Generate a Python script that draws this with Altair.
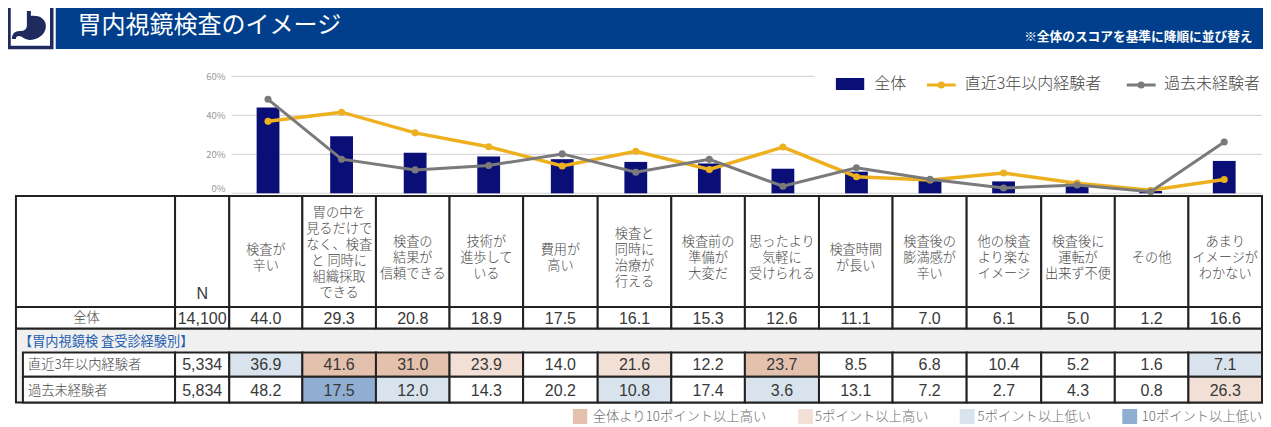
import altair as alt
import pandas as pd

FONT = "Noto Sans CJK JP"
LATIN = "Liberation Sans"
W, H = 1255, 419
KX = 1254 / 1261  # the page only has 1255px of width for 1263px of reference

# ---- data ----
categories = ["検査が辛い", "胃の中を見るだけでなく、検査と同時に組織採取できる", "検査の結果が信頼できる",
              "技術が進歩している", "費用が高い", "検査と同時に治療が行える", "検査前の準備が大変だ",
              "思ったより気軽に受けられる", "検査時間が長い", "検査後の膨満感が辛い", "他の検査より楽なイメージ",
              "検査後に運転が出来ず不便", "その他", "あまりイメージがわかない"]
header_labels = ["検査が\n辛い", "胃の中を\n見るだけで\nなく、検査\nと 同時に\n組織採取\nできる", "検査の\n結果が\n信頼できる",
                 "技術が\n進歩して\nいる", "費用が\n高い", "検査と\n同時に\n治療が\n行える", "検査前の\n準備が\n大変だ",
                 "思ったより\n気軽に\n受けられる", "検査時間\nが長い", "検査後の\n膨満感が\n辛い", "他の検査\nより楽な\nイメージ",
                 "検査後に\n運転が\n出来ず不便", "その他", "あまり\nイメージが\nわかない"]
overall = [44.0, 29.3, 20.8, 18.9, 17.5, 16.1, 15.3, 12.6, 11.1, 7.0, 6.1, 5.0, 1.2, 16.6]
recent = [36.9, 41.6, 31.0, 23.9, 14.0, 21.6, 12.2, 23.7, 8.5, 6.8, 10.4, 5.2, 1.6, 7.1]
never = [48.2, 17.5, 12.0, 14.3, 20.2, 10.8, 17.4, 3.6, 13.1, 7.2, 2.7, 4.3, 0.8, 26.3]
y_ticks = [0, 20, 40, 60]
n_labels = ["14,100", "5,334", "5,834"]
row_labels = ["全体", "直近3年以内経験者", "過去未経験者"]
series_names = ["全体", "直近3年以内経験者", "過去未経験者"]
key_labels = ["全体より10ポイント以上高い", "5ポイント以上高い", "5ポイント以上低い", "10ポイント以上低い"]

# ---- layout (reference-image pixels) ----
COL = [16, 176, 230.5, 304, 378, 452, 526, 601, 675, 749, 823.5, 897.5, 972, 1047, 1121, 1195, 1269]
ROW = [196, 307, 328.5, 352.5, 376.7, 402.5]
NAVY, YEL, GRY = "#0A0F78", "#EDB120", "#7A7A7A"
EDGE = "#222222"
C_H10, C_H5, C_L5, C_L10 = "#E3C1AC", "#F2E0D6", "#D9E3EE", "#90AED2"
TXT = "#474747"

SX = alt.Scale(domain=[8, 1269], range=[0, 1254])
SY = alt.Scale(domain=[8, 8 + H], range=[0, H])


def rects(rows):
    df = pd.DataFrame(rows, columns=["x", "x2", "y", "y2", "fill", "stroke", "sw"])
    return alt.Chart(df).mark_rect().encode(
        x=alt.X("x:Q", scale=SX, axis=None), x2="x2:Q",
        y=alt.Y("y:Q", scale=SY, axis=None), y2="y2:Q",
        fill=alt.Fill("fill:N", scale=None), stroke=alt.Stroke("stroke:N", scale=None),
        strokeWidth=alt.StrokeWidth("sw:Q", scale=None))


def texts(rows, size, color, align="center", weight=400, lh=16, font=FONT):
    df = pd.DataFrame(rows, columns=["x", "y", "t"])
    return alt.Chart(df).mark_text(align=align, baseline="middle", font=font, fontSize=size, color=color,
                                   fontWeight=weight, lineBreak="\n", lineHeight=lh).encode(
        x=alt.X("x:Q", scale=SX, axis=None), y=alt.Y("y:Q", scale=SY, axis=None), text="t:N")


def shade(v, base):
    d = round(v - base, 1)
    if d >= 10:
        return C_H10
    if d >= 5:
        return C_H5
    if d <= -10:
        return C_L10
    if d <= -5:
        return C_L5
    return "#FFFFFF"


layers = []

# ---- header band ----
layers.append(rects([[56, 1275, 3, 49, "#013F8C", "#013F8C", 0],
                     [9, 52, 4.5, 47.5, "#FFFFFF", "#1F2A5F", 3.5]]))
layers.append(texts([[78, 25.5, "胃内視鏡検査のイメージ"]], 24, "#FFFFFF", align="left"))
layers.append(texts([[1259.5, 37, "※全体のスコアを基準に降順に並び替え"]], 12.7, "#FFFFFF", align="right", weight=700))


def u(px, py):
    return f"{(px - 29) / 17:.3f} {(py - 25) / 17:.3f}"


stomach = (f"M{u(27, 11)} L{u(31, 11)} L{u(31, 16)} C{u(38, 15)} {u(46, 18)} {u(46, 26)} "
           f"C{u(46, 35)} {u(37, 40)} {u(30, 40)} C{u(25, 40)} {u(22, 36)} {u(19, 36)} "
           f"C{u(17, 36)} {u(16, 37)} {u(16, 39)} L{u(12, 39)} C{u(12, 34)} {u(15, 31)} {u(20, 31)} "
           f"C{u(24, 31)} {u(27, 30)} {u(27, 25)} Z")
layers.append(alt.Chart(pd.DataFrame({"x": [29], "y": [25]})).mark_point(
    shape=stomach, size=1156, filled=True, color="#1F2A5F", opacity=1).encode(
    x=alt.X("x:Q", scale=SX, axis=None), y=alt.Y("y:Q", scale=SY, axis=None)))

# ---- table ----
cells = [[COL[0], COL[-1], ROW[2], ROW[5], "#F0F0F0", EDGE, 2]]
cells.append([COL[0], COL[1], ROW[0], ROW[1], "#FFFFFF", EDGE, 2])
cells.append([COL[1], COL[2], ROW[0], ROW[1], "#FFFFFF", EDGE, 2])
cells.append([COL[0], COL[1], ROW[1], ROW[2], "#FFFFFF", EDGE, 2])
cells.append([COL[1], COL[2], ROW[1], ROW[2], "#FFFFFF", EDGE, 2])
for r in (3, 4):
    cells.append([23, COL[1], ROW[r], ROW[r + 1], "#FFFFFF", EDGE, 2])
    cells.append([COL[1], COL[2], ROW[r], ROW[r + 1], "#FFFFFF", EDGE, 2])
for i in range(14):
    a, b = COL[i + 2], COL[i + 3]
    cells.append([a, b, ROW[0], ROW[1], "#FFFFFF", EDGE, 2])
    cells.append([a, b, ROW[1], ROW[2], "#FFFFFF", EDGE, 2])
    cells.append([a, b, ROW[3], ROW[4], shade(recent[i], overall[i]), EDGE, 2])
    cells.append([a, b, ROW[4], ROW[5], shade(never[i], overall[i]), EDGE, 2])
layers.append(rects(cells))

head, vals = [], []
for i in range(14):
    cx = (COL[i + 2] + COL[i + 3]) / 2
    lines = header_labels[i].count("\n")
    head.append([cx, (253 if i == 1 else 257.5) - lines * 8, header_labels[i]])
    vals.append([cx, 319, f"{overall[i]:.1f}"])
    vals.append([cx, 365, f"{recent[i]:.1f}"])
    vals.append([cx, 391, f"{never[i]:.1f}"])
layers.append(texts(head, 13.2, TXT, weight=300))
nx = (COL[1] + COL[2]) / 2
vals += [[nx, 319, n_labels[0]], [nx, 365, n_labels[1]], [nx, 391, n_labels[2]], [nx, 294, "N"]]
layers.append(texts(vals, 16, "#383838", font=LATIN))
layers.append(texts([[87, 318, row_labels[0]]], 13.3, TXT, weight=300))
layers.append(texts([[28, 365, row_labels[1]], [28, 390.5, row_labels[2]]], 13.3, TXT, align="left", weight=300))
layers.append(texts([[19, 341.5, "【胃内視鏡検 査受診経験別】"]], 13.2, "#1F5FAF", align="left"))

# ---- chart ----
XB = alt.X("cat:N", sort=None, axis=None,
           scale=alt.Scale(domain=categories, range=[224.5 * KX, 1260 * KX], paddingInner=0.69, paddingOuter=0.345))
YS = alt.Scale(domain=[0, 60], range=[185.3, 68.3])
tick_df = pd.DataFrame({"v": y_ticks})
layers.append(alt.Chart(tick_df).mark_rule(color="#D9D9D9", strokeWidth=1.2).encode(
    y=alt.Y("v:Q", scale=YS, axis=alt.Axis(values=y_ticks, offset=-218, labelPadding=1, ticks=False, domain=False,
                                            grid=False, title=None, labelExpr="datum.value + '%'", labelFont=FONT,
                                            labelFontSize=9.5, labelColor="#999999", zindex=1,
                                            labelOffset={"condition": {"test": "datum.value === 0", "value": -4.5},
                                                         "value": 0})),
    x=alt.value(225 * KX), x2=alt.value(1261 * KX)))
# white backing of the legend
layers.append(rects([[819, 1275, 70, 98, "#FFFFFF", "#FFFFFF", 0]]))

df = pd.DataFrame({"cat": categories, "all": overall, "recent": recent, "never": never})
layers.append(alt.Chart(df).mark_bar(color=NAVY).encode(
    x=XB, y=alt.Y("all:Q", scale=YS, axis=None)))
for col, c, sw, sz in (("recent", YEL, 3.5, 50), ("never", GRY, 3, 50)):
    layers.append(alt.Chart(df).mark_line(color=c, strokeWidth=sw,
                                          point=alt.OverlayMarkDef(color=c, size=sz, filled=True, opacity=1)).encode(
        x=XB, y=alt.Y(f"{col}:Q", scale=YS, axis=None)))

# ---- legend (top) ----
layers.append(rects([[840.5, 869, 78, 90, NAVY, NAVY, 0]]))
leg_lines = pd.DataFrame({"x": [932, 961, 1133, 1162], "y": [85] * 4, "s": [series_names[1]] * 2 + [series_names[2]] * 2})
for name, c in ((series_names[1], YEL), (series_names[2], GRY)):
    d = leg_lines[leg_lines.s == name]
    layers.append(alt.Chart(d).mark_line(color=c, strokeWidth=3).encode(
        x=alt.X("x:Q", scale=SX, axis=None), y=alt.Y("y:Q", scale=SY, axis=None)))
    mid = pd.DataFrame({"x": [d.x.mean()], "y": [85]})
    layers.append(alt.Chart(mid).mark_point(color=c, size=50, filled=True, opacity=1).encode(
        x=alt.X("x:Q", scale=SX, axis=None), y=alt.Y("y:Q", scale=SY, axis=None)))
layers.append(texts([[879, 84, series_names[0]], [970, 84, series_names[1]], [1170.5, 84, series_names[2]]],
                    16, TXT, align="left", weight=300))

# ---- shading key (bottom) ----
layers.append(rects([[576, 590.5, 409, 424, C_H10, C_H10, 0], [802.5, 817.5, 409, 424, C_H5, C_H5, 0],
                     [965, 980, 409, 424, C_L5, C_L5, 0], [1128.5, 1143.5, 409, 424, C_L10, C_L10, 0]]))
layers.append(texts([[596, 416.5, key_labels[0]], [819.5, 416.5, key_labels[1]],
                     [983, 416.5, key_labels[2]], [1148, 416.5, key_labels[3]]], 13.3, "#6E6E6E", align="left", weight=300))

chart = alt.layer(*layers).resolve_scale(x="independent", y="independent").properties(
    width=W, height=H, padding=0, autosize=alt.AutoSizeParams(type="none"),
    background="#FFFFFF").configure_view(stroke=None)

chart.save("out.html", embed_options={"renderer": "svg", "actions": False})
